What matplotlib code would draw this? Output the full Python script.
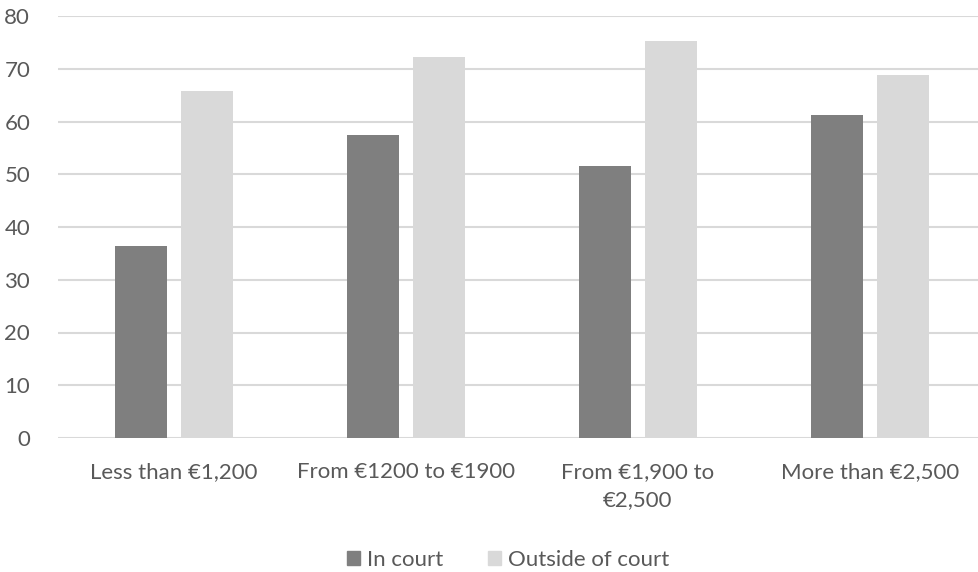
import numpy as np
import matplotlib
matplotlib.use("Agg")
import matplotlib.pyplot as plt
from matplotlib.patches import Patch

# === Données ===
categories = ["Less than €1,200", "From €1200 to €1900", "From €1,900 to\n€2,500", "More than €2,500"]
in_court = [36.4, 57.4, 51.5, 61.2]
outside_court = [65.8, 72.3, 75.2, 68.9]
y_ticks = [0, 10, 20, 30, 40, 50, 60, 70, 80]

dark = "#7f7f7f"
light = "#d9d9d9"
text_col = "#595959"

plt.rcParams["font.family"] = ["Lato", "DejaVu Sans"]
fs = 16

fig = plt.figure(figsize=(9.79, 5.72), dpi=100)
ax = fig.add_axes([58 / 979, 1 - 438 / 572, 1 - 58 / 979, (438 - 16) / 572])

x = np.arange(len(categories))
w = 0.224
ax.bar(x - 0.142, in_court, width=w, color=dark, zorder=3)
ax.bar(x + 0.142, outside_court, width=w, color=light, zorder=3)

ax.set_xlim(-0.5, 3.47)
ax.set_ylim(0, 80)
ax.set_yticks(y_ticks)
ax.set_xticks(x)
ax.set_xticklabels(categories, fontsize=fs, color=text_col, linespacing=1.5)
ax.tick_params(axis="y", labelsize=fs, labelcolor=text_col, length=0, pad=20)
ax.tick_params(axis="x", length=0, pad=17)
for lab in ax.get_yticklabels():
    lab.set_horizontalalignment("right")
ax.grid(axis="y", color=light, linewidth=1.5, zorder=0)
for s in ax.spines.values():
    s.set_visible(False)

handles = [Patch(color=dark, label="In court"), Patch(color=light, label="Outside of court")]
fig.legend(handles=handles, loc="center", bbox_to_anchor=(508 / 979, 1 - 560 / 572),
           ncol=2, frameon=False, fontsize=fs, labelcolor=text_col,
           handlelength=0.6, handleheight=0.6, handletextpad=0.3, columnspacing=2.0)

fig.savefig("out.png", dpi=100)
